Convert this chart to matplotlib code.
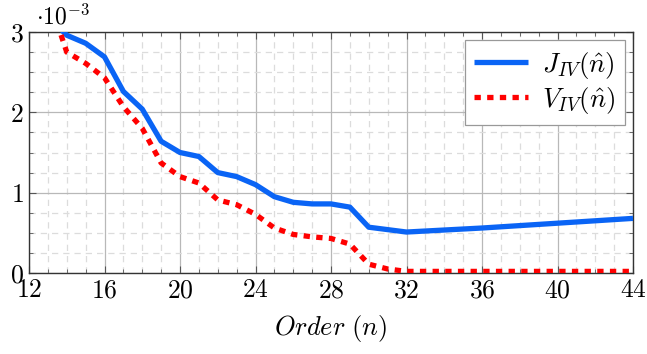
import numpy as np
import matplotlib
matplotlib.use('Agg')
from matplotlib import pyplot as plt
from matplotlib.ticker import MultipleLocator

plt.rcParams['font.family'] = 'serif'
plt.rcParams['font.serif'] = ['cmr10']
plt.rcParams['mathtext.fontset'] = 'cm'
plt.rcParams['axes.unicode_minus'] = False

# values in units of 1e-3
order_j = [13, 14, 15, 16, 17, 18, 19, 20, 21, 22, 23, 24, 25, 26, 27, 28, 29, 30, 31, 32, 36, 40, 44]
j_iv = [3.20, 2.96, 2.86, 2.69, 2.26, 2.04, 1.64, 1.50, 1.45, 1.25, 1.20, 1.10, 0.95, 0.88, 0.86,
        0.86, 0.82, 0.57, 0.54, 0.51, 0.56, 0.62, 0.68]
order_v = [13, 14, 15, 16, 17, 18, 19, 20, 21, 22, 23, 24, 25, 26, 27, 28, 29, 30, 31, 32, 36, 40, 44]
v_iv = [3.45, 2.75, 2.61, 2.43, 2.07, 1.80, 1.37, 1.20, 1.12, 0.91, 0.85, 0.73, 0.56, 0.48, 0.45,
        0.43, 0.36, 0.11, 0.05, 0.02, 0.02, 0.02, 0.02]
x_ticks = [12, 16, 20, 24, 28, 32, 36, 40, 44]
y_ticks = [0, 1, 2, 3]

fig = plt.figure(figsize=(6.47, 3.54), dpi=100)
ax = fig.add_axes([29/647, 1-273/354, 604/647, 241/354])

ax.plot(order_j, np.array(j_iv)*1e-3, color='#0a64f5', lw=3.8, solid_capstyle='butt',
        label=r'$J_{IV}(\hat{n})$', zorder=3)
ax.plot(order_v, np.array(v_iv)*1e-3, color='#ff0000', lw=3.8, linestyle=(0, (1.2, 1.2)),
        dash_capstyle='butt', label=r'$V_{IV}(\hat{n})$', zorder=3)

ax.set_xlim(12, 44)
ax.set_ylim(0, 3e-3)
ax.set_xticks(x_ticks)
ax.set_xticklabels(['$%d$' % t for t in x_ticks])
ax.set_yticks([t*1e-3 for t in y_ticks])
ax.set_yticklabels(['$%d$' % t for t in y_ticks])
ax.xaxis.set_minor_locator(MultipleLocator(1))
ax.yaxis.set_minor_locator(MultipleLocator(0.25e-3))

ax.grid(which='major', color='#b8b8b8', lw=0.9, ls='-')
ax.grid(which='minor', color='#dcdcdc', lw=0.9, ls=(0, (5, 4)))
ax.set_axisbelow(True)
ax.tick_params(which='both', direction='in', top=True, right=True, labelsize=18.5, color='#555555')
ax.tick_params(which='major', length=5, width=0.8, pad=4)
ax.tick_params(which='minor', length=3, width=0.6)
for s in ax.spines.values():
    s.set_linewidth(1.0)
    s.set_color('#333333')

ax.set_xlabel(r'$Order\ (n)$', fontsize=19, labelpad=8)
fig.text(36/647, 1-24/354, r'$\cdot 10^{-3}$', fontsize=17, va='baseline', ha='left')

leg = ax.legend(loc='upper right', fontsize=19.5, fancybox=False, framealpha=1,
                edgecolor='#999999', handlelength=2.0, borderpad=0.35,
                labelspacing=0.15, handletextpad=0.5, borderaxespad=0.3)
leg.get_frame().set_linewidth(0.9)

fig.savefig('out.png', dpi=100)
